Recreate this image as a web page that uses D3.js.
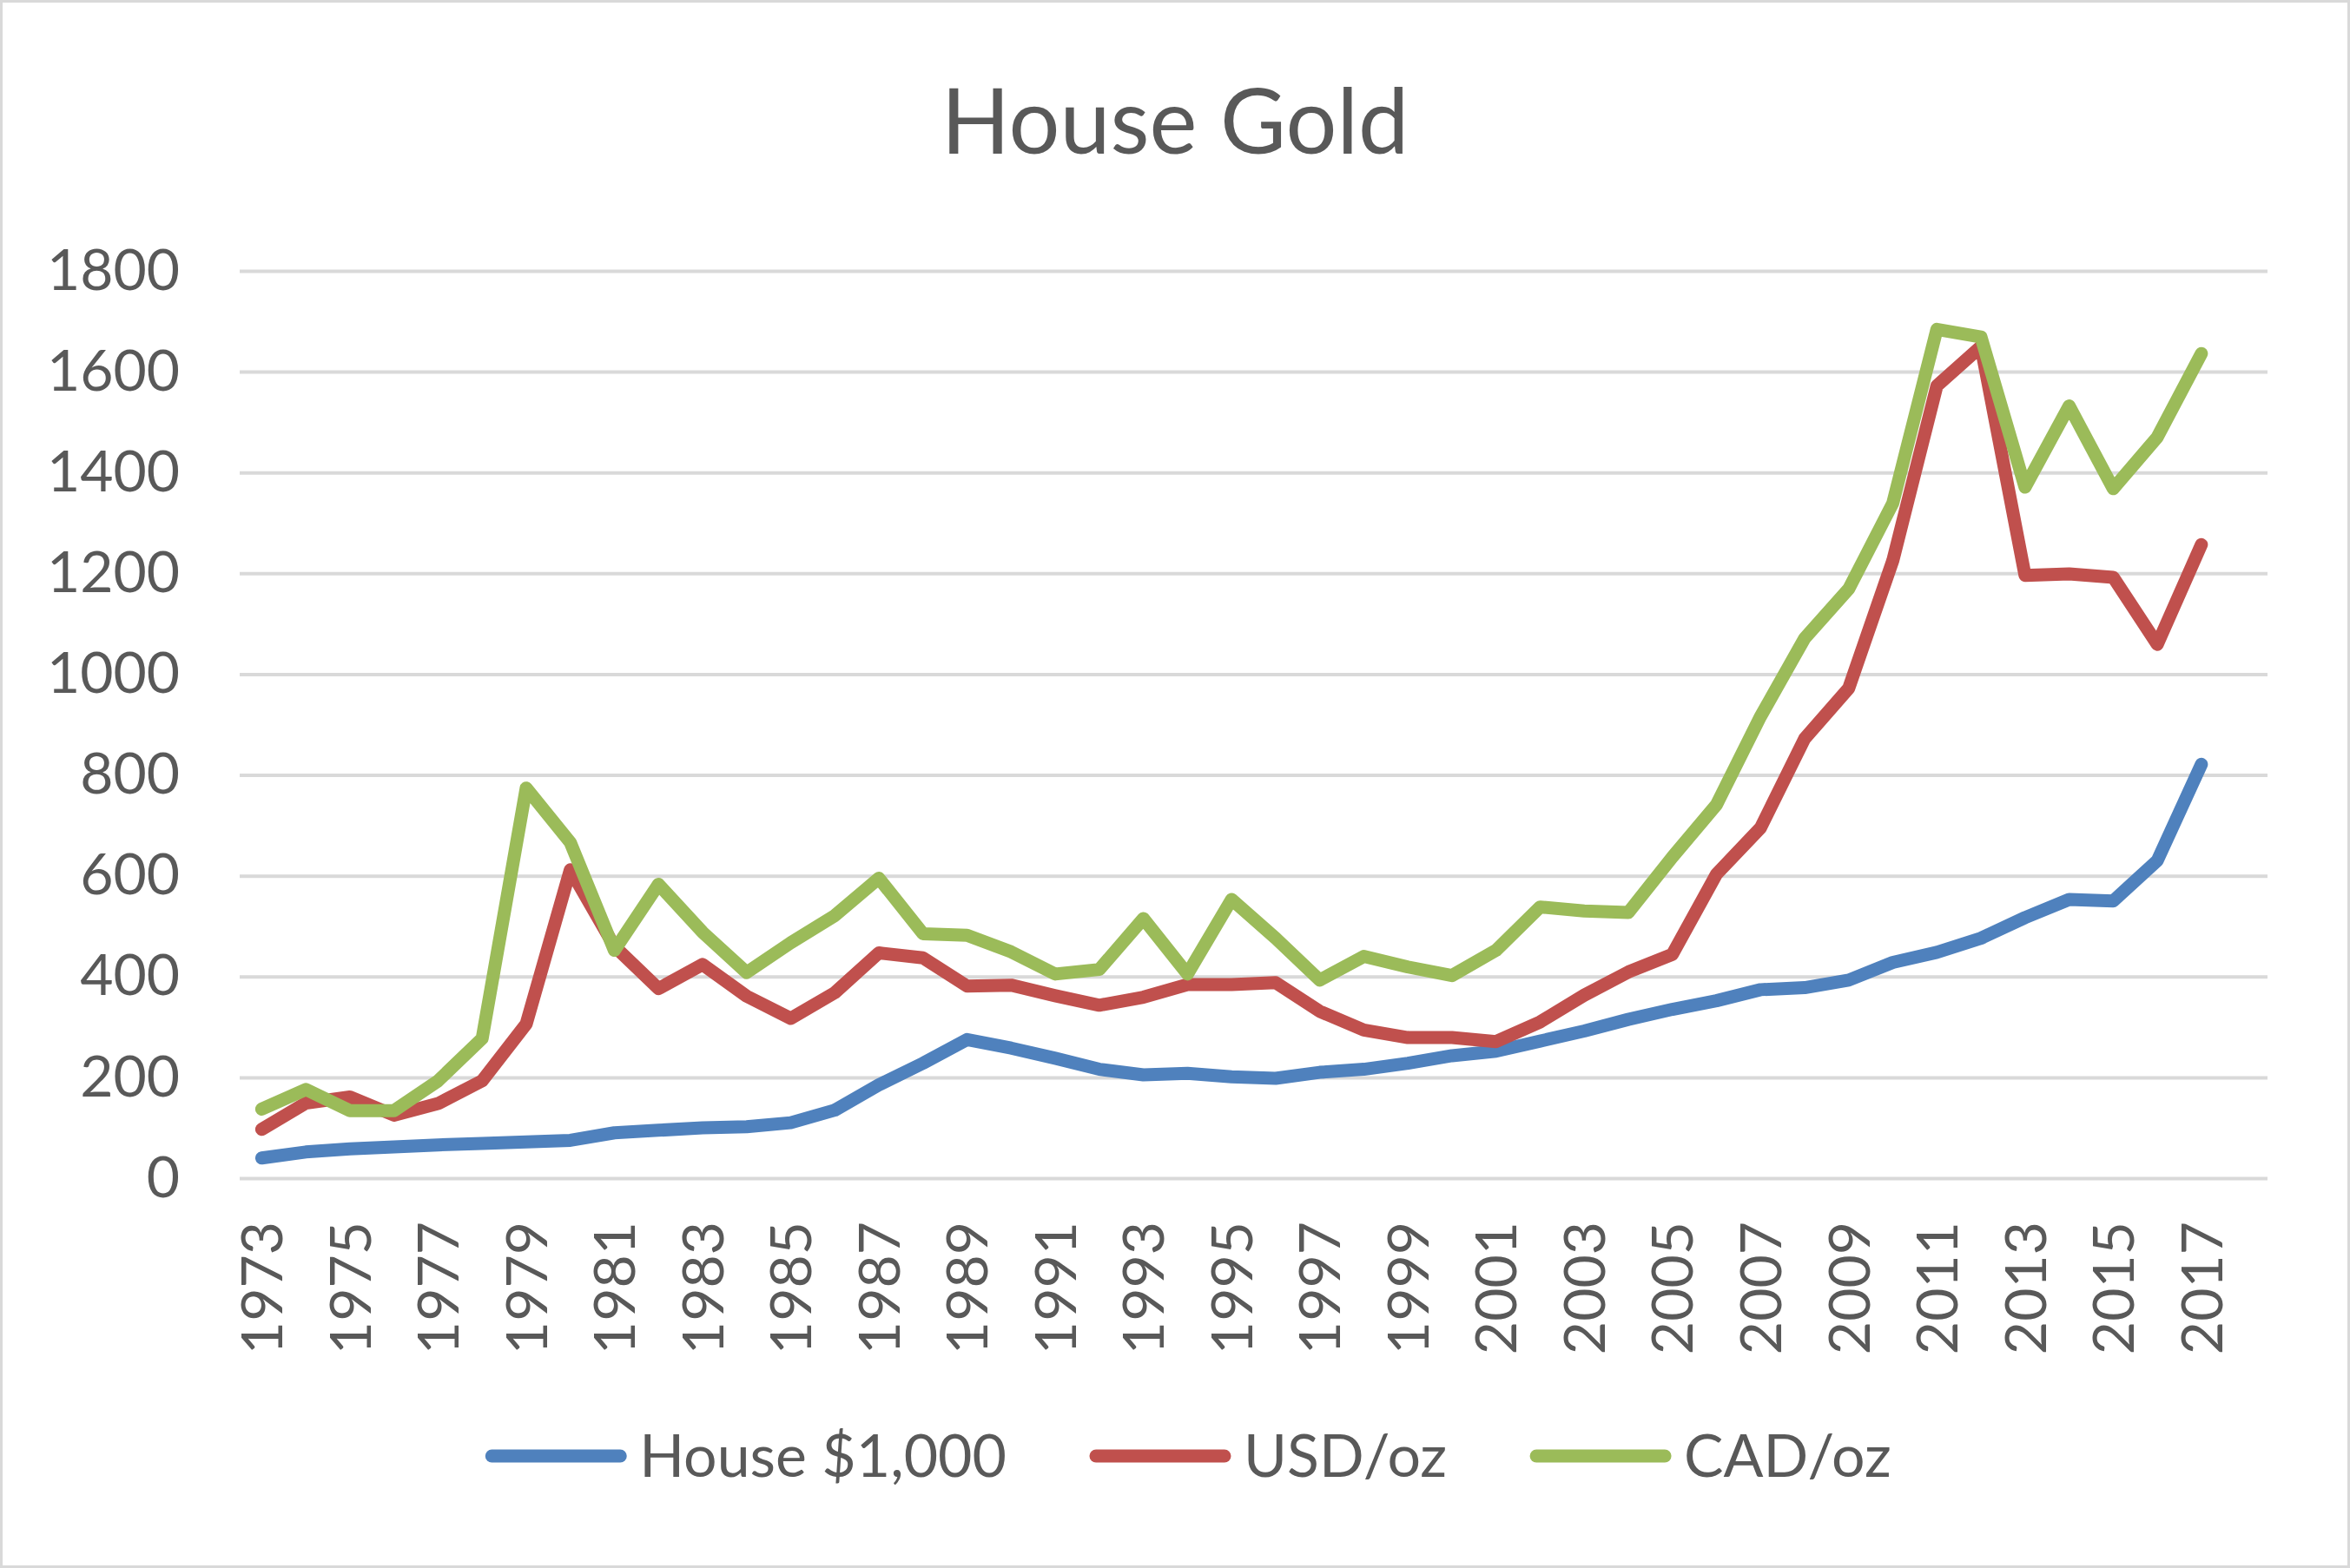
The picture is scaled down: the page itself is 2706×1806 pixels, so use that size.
<!DOCTYPE html>
<html>
<head>
<meta charset="utf-8">
<script src="https://cdn.jsdelivr.net/npm/d3@7"></script>
<style>
  html, body { margin: 0; padding: 0; background: #fff; }
  svg { display: block; }
  text { font-family: Lato, "Open Sans", sans-serif; fill: #595959; }
</style>
</head>
<body>
<div id="chart"></div>
<script>
// categories: one trailing empty year, as in the source sheet
const years = [
  1973, 1974, 1975, 1976, 1977, 1978, 1979, 1980, 1981, 1982,
  1983, 1984, 1985, 1986, 1987, 1988, 1989, 1990, 1991, 1992,
  1993, 1994, 1995, 1996, 1997, 1998, 1999, 2000, 2001, 2002,
  2003, 2004, 2005, 2006, 2007, 2008, 2009, 2010, 2011, 2012,
  2013, 2014, 2015, 2016, 2017, 2018
];

const house = [
  40, 52, 58, 62, 66, 69, 72, 75, 90, 95,
  100, 102, 110, 135, 185, 228, 275, 258, 238, 216,
  205, 208, 201, 198, 210, 216, 228, 243, 252, 272,
  292, 315, 335, 352, 374, 378, 393, 428, 448, 476,
  517, 553, 550, 630, 821
];

const usd = [
  97, 149, 161, 125, 148, 193, 306, 612, 460, 376,
  424, 361, 317, 368, 447, 437, 381, 383, 362, 343,
  359, 384, 384, 388, 331, 294, 279, 279, 271, 310,
  363, 409, 444, 603, 695, 872, 972, 1225, 1572, 1650,
  1196, 1199, 1192, 1059, 1257
];

const cad = [
  137, 176, 134, 134, 193, 277, 774, 666, 452, 583,
  488, 408, 467, 521, 595, 485, 482, 449, 405, 414,
  515, 405, 553, 476, 393, 440, 419, 402, 452, 538,
  530, 527, 637, 741, 916, 1071, 1169, 1339, 1684, 1669,
  1371, 1532, 1368, 1470, 1636
];

const yTicks = [0, 200, 400, 600, 800, 1000, 1200, 1400, 1600, 1800];

const series = [
  { name: "House $1,000", values: house, color: "#4F81BD" },
  { name: "USD/oz", values: usd, color: "#C0504D" },
  { name: "CAD/oz", values: cad, color: "#9BBB59" }
];

const W = 2706, H = 1806;
const plot = { left: 276, right: 2611, top: 312, bottom: 1357 };

const svg = d3.select("#chart").append("svg")
  .attr("width", W)
  .attr("height", H);

svg.append("rect")
  .attr("x", 1.5).attr("y", 1.5)
  .attr("width", W - 3).attr("height", H - 3)
  .attr("fill", "#fff")
  .attr("stroke", "#D9D9D9")
  .attr("stroke-width", 3);

svg.append("text")
  .attr("x", W / 2)
  .attr("y", 177)
  .attr("text-anchor", "middle")
  .style("font-size", "104px")
  .text("House Gold");

const x = d3.scaleBand()
  .domain(years)
  .range([plot.left, plot.right]);

const y = d3.scaleLinear()
  .domain([0, 1800])
  .range([plot.bottom, plot.top]);

const cx = (yr) => x(yr) + x.bandwidth() / 2;

// gridlines + y labels
const yAxis = svg.append("g")
  .attr("transform", `translate(${plot.left},0)`)
  .call(
    d3.axisLeft(y)
      .tickValues(yTicks)
      .tickSize(-(plot.right - plot.left))
      .tickPadding(69)
      .tickFormat(d3.format("d"))
  );
yAxis.select(".domain").remove();
yAxis.selectAll(".tick line")
  .attr("stroke", "#D9D9D9")
  .attr("stroke-width", 4);
yAxis.selectAll(".tick text")
  .style("font-size", "66px")
  .style("fill", "#595959");

// x labels, every other year
const xAxis = svg.append("g")
  .attr("transform", `translate(0,${plot.bottom})`)
  .call(
    d3.axisBottom(x)
      .tickValues(years.filter((d, i) => i % 2 === 0 && i < house.length))
      .tickSize(0)
  );
xAxis.select(".domain").remove();
xAxis.selectAll(".tick text")
  .attr("transform", "rotate(-90)")
  .attr("x", -50)
  .attr("y", 0)
  .attr("dy", "0.36em")
  .attr("text-anchor", "end")
  .style("font-size", "66px")
  .style("fill", "#595959");

const line = d3.line()
  .x((d, i) => cx(years[i]))
  .y((d) => y(d));

svg.append("g")
  .selectAll("path")
  .data(series)
  .enter()
  .append("path")
  .attr("d", (d) => line(d.values))
  .attr("fill", "none")
  .attr("stroke", (d) => d.color)
  .attr("stroke-width", 15)
  .attr("stroke-linejoin", "round")
  .attr("stroke-linecap", "round");

// legend
const legendY = 1677;
const swatch = 164, swatchGap = 14, itemGap = 95;
const legend = svg.append("g");
const items = legend.selectAll(".item")
  .data(series)
  .enter()
  .append("g")
  .attr("class", "item");

items.append("text")
  .attr("x", swatch + swatchGap)
  .attr("y", legendY)
  .attr("dy", "0.36em")
  .style("font-size", "68px")
  .text((d) => d.name);

let offset = 0;
items.each(function () {
  const g = d3.select(this);
  const tw = g.select("text").node().getComputedTextLength();
  g.attr("transform", `translate(${offset},0)`);
  offset += swatch + swatchGap + tw + itemGap;
});
const total = offset - itemGap;

items.insert("line", "text")
  .attr("x1", 8).attr("x2", swatch - 8)
  .attr("y1", legendY).attr("y2", legendY)
  .attr("stroke", (d) => d.color)
  .attr("stroke-width", 15)
  .attr("stroke-linecap", "round");

legend.attr("transform", `translate(${1368 - total / 2},0)`);
</script>
</body>
</html>
